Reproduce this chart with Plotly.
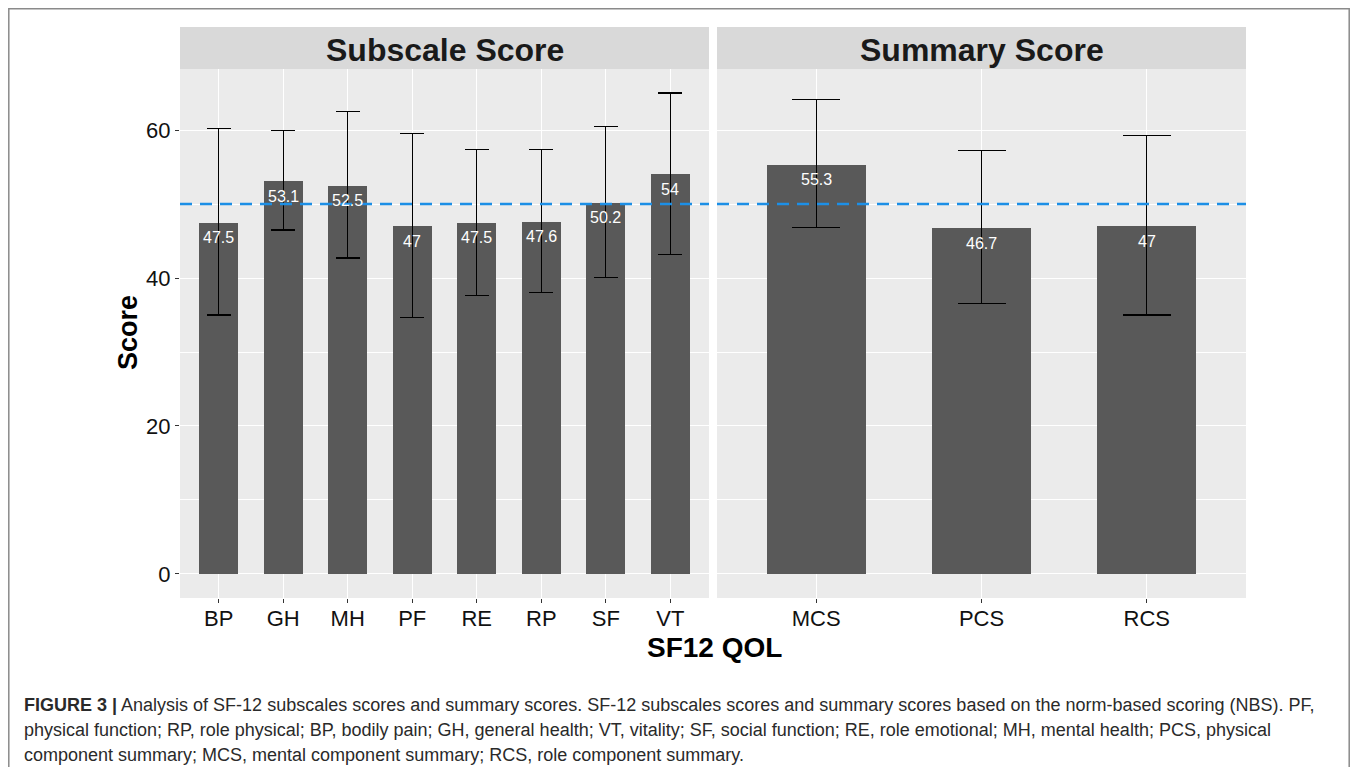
import plotly.graph_objects as go

# ---- data ----
sub_cats = ["BP", "GH", "MH", "PF", "RE", "RP", "SF", "VT"]
sub_vals = [47.5, 53.1, 52.5, 47.0, 47.5, 47.6, 50.2, 54.0]
sub_upper = [60.2, 59.9, 62.5, 59.5, 57.4, 57.4, 60.5, 65.0]
sub_lower = [35.0, 46.5, 42.7, 34.7, 37.6, 38.0, 40.1, 43.2]

sum_cats = ["MCS", "PCS", "RCS"]
sum_vals = [55.3, 46.7, 47.0]
sum_upper = [64.1, 57.2, 59.3]
sum_lower = [46.8, 36.6, 35.0]

panel_titles = ["Subscale Score", "Summary Score"]
ref_line = 50
y_ticks = [0, 20, 40, 60]
x_title = "SF12 QOL"
y_title = "Score"
caption_lines = [
    "<b>FIGURE 3 |</b> Analysis of SF-12 subscales scores and summary scores. SF-12 subscales scores and summary scores based on the norm-based scoring (NBS). PF,",
    "physical function; RP, role physical; BP, bodily pain; GH, general health; VT, vitality; SF, social function; RE, role emotional; MH, mental health; PCS, physical",
    "component summary; MCS, mental component summary; RCS, role component summary.",
]

# ---- geometry (screen pixels; page has an 8px body margin) ----
OFF = 8
W, H = 1358 - 2 * OFF, 775 - 2 * OFF
L, R, T, B = 180 - OFF, 1246 - OFF, 69 - OFF, 598 - OFF
pw, ph = R - L, B - T

def px_x(x):
    return (x - OFF - L) / pw

def px_y(y):
    return (B - (y - OFF)) / ph

BAR = "#595959"
BG = "#EBEBEB"
STRIP = "#D9D9D9"
FONT = "Liberation Sans, Arial, sans-serif"

fig = go.Figure()

def add_panel(cats, vals, up, lo, xa, ya, capw):
    fig.add_trace(go.Bar(
        x=cats, y=vals, marker=dict(color=BAR, line=dict(width=0)), width=0.6,
        error_y=dict(type="data", symmetric=False,
                     array=[u - v for u, v in zip(up, vals)],
                     arrayminus=[v - l for v, l in zip(vals, lo)],
                     color="black", thickness=1.3, width=capw),
        xaxis=xa, yaxis=ya, showlegend=False, hoverinfo="skip"))

add_panel(sub_cats, sub_vals, sub_upper, sub_lower, "x", "y", 12)
add_panel(sum_cats, sum_vals, sum_upper, sum_lower, "x2", "y2", 24)

d1 = [0, px_x(709)]
d2 = [px_x(717), 1]

axis_common = dict(
    showgrid=True, gridcolor="white", gridwidth=1.4,
    ticks="outside", ticklen=4, tickcolor="#333333", tickwidth=1.1,
    tickfont=dict(size=22, family=FONT, color="#111111"),
    zeroline=False, showline=False, fixedrange=True,
)
minor = dict(tickvals=[10, 30, 50], showgrid=True, gridcolor="white", gridwidth=0.7, ticks="")

fig.update_layout(
    width=W, height=H,
    margin=dict(l=L, r=W - R, t=T, b=H - B),
    paper_bgcolor="white", plot_bgcolor=BG,
    barmode="overlay", bargap=0,
    xaxis=dict(domain=d1, range=[-0.6, len(sub_cats) - 0.4], ticklabelstandoff=-3, **axis_common),
    xaxis2=dict(domain=d2, range=[-0.6, len(sum_cats) - 0.4], anchor="y2", ticklabelstandoff=-3, **axis_common),
    yaxis=dict(domain=[0, 1], range=[-3.25, 68.25], tickvals=y_ticks, minor=minor, **axis_common),
    yaxis2=dict(domain=[0, 1], range=[-3.25, 68.25], matches="y", anchor="x2",
                tickvals=y_ticks, showticklabels=False, ticks="", minor=minor,
                **{k: v for k, v in axis_common.items() if k != "ticks"}),
)

shapes = []
for xr in ["x domain", "x2 domain"]:
    shapes.append(dict(type="line", xref=xr, yref="y", x0=0, x1=1, y0=ref_line, y1=ref_line,
                       line=dict(color="#1C8FE6", width=2.6, dash="12px,8px"), layer="above"))
strip_top = px_y(27)
for dom in (d1, d2):
    shapes.append(dict(type="rect", xref="paper", yref="paper", x0=dom[0], x1=dom[1],
                       y0=1, y1=strip_top, fillcolor=STRIP, line=dict(width=0), layer="below"))
shapes.append(dict(type="rect", xref="paper", yref="paper",
                   x0=(0.8 - L) / pw, x1=(W - 0.8 - L) / pw,
                   y0=(B - 0.8) / ph, y1=px_y(800),
                   line=dict(color="#8a8a8a", width=1.5), fillcolor="rgba(0,0,0,0)", layer="below"))
fig.update_layout(shapes=shapes)

ann = []
for cats, vals, xa, ya in ((sub_cats, sub_vals, "x", "y"), (sum_cats, sum_vals, "x2", "y2")):
    for c, v in zip(cats, vals):
        ann.append(dict(xref=xa, yref=ya, x=c, y=v, text=f"{v:g}", showarrow=False,
                        xanchor="center", yanchor="middle", yshift=-15,
                        font=dict(size=16, family=FONT, color="white")))
for dom, t in zip((d1, d2), panel_titles):
    ann.append(dict(xref="paper", yref="paper", x=(dom[0] + dom[1]) / 2, y=px_y(50),
                    text=f"<b>{t}</b>", showarrow=False, xanchor="center", yanchor="middle",
                    font=dict(size=32, family=FONT, color="#1a1a1a")))
ann.append(dict(xref="paper", yref="paper", x=px_x(714), y=px_y(647), text=f"<b>{x_title}</b>",
                showarrow=False, xanchor="center", yanchor="middle",
                font=dict(size=28, family=FONT, color="black")))
ann.append(dict(xref="paper", yref="paper", x=px_x(128), y=px_y(333), text=f"<b>{y_title}</b>",
                showarrow=False, xanchor="center", yanchor="middle", textangle=-90,
                font=dict(size=27, family=FONT, color="black")))
for i, line in enumerate(caption_lines):
    ann.append(dict(xref="paper", yref="paper", x=px_x(22), y=px_y(705 + 25 * i), text=line,
                    showarrow=False, xanchor="left", yanchor="middle", align="left",
                    font=dict(size=18, family=FONT, color="#2a2a2a")))
fig.update_layout(annotations=ann)

fig.write_html("out.html")
